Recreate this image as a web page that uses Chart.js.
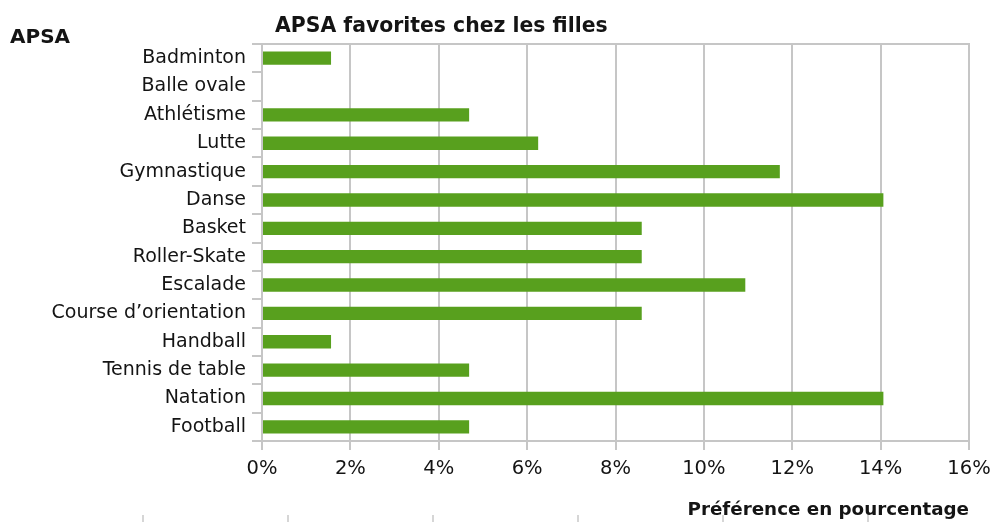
<!DOCTYPE html>
<html><head><meta charset="utf-8">
<script src="https://cdn.jsdelivr.net/npm/chart.js@4/dist/chart.umd.min.js"></script>
<style>html,body{margin:0;padding:0;background:#fff}#wrap{width:999px;height:522px;position:relative}</style>
</head><body><div id="wrap"><canvas id="c" width="999" height="522"></canvas></div>
<script>
const categories = ["Badminton","Balle ovale","Athlétisme","Lutte","Gymnastique","Danse","Basket","Roller-Skate","Escalade","Course d\u2019orientation","Handball","Tennis de table","Natation","Football"];
const percentages = [1.5625,0,4.6875,6.25,11.71875,14.0625,8.59375,8.59375,10.9375,8.59375,1.5625,4.6875,14.0625,4.6875];
const xTickValues = [0,2,4,6,8,10,12,14,16];
const chartTitle = "APSA favorites chez les filles";
const yTitle = "APSA";
const xTitle = "Préférence en pourcentage";

const FONT = "'DejaVu Sans', sans-serif";
const GRID = '#c6c6c6';
const TEXT = '#141414';

const deco = {
  id: 'deco',
  afterDraw(chart) {
    const ctx = chart.ctx, a = chart.chartArea;
    ctx.save();
    ctx.strokeStyle = GRID; ctx.lineWidth = 2;
    ctx.beginPath(); ctx.moveTo(a.left, a.top); ctx.lineTo(a.right + 1, a.top); ctx.stroke();
    ctx.fillStyle = TEXT;
    ctx.textBaseline = 'alphabetic';
    ctx.font = "bold 20px " + FONT;
    ctx.textAlign = 'left';
    ctx.fillText(yTitle, 10, 43);
    ctx.font = "bold 20.4px " + FONT;
    ctx.fillText(chartTitle, 275, 32);
    ctx.font = "bold 18.3px " + FONT;
    ctx.textAlign = 'right';
    ctx.fillText(xTitle, a.right, 515);
    // faint marks at bottom edge
    ctx.strokeStyle = '#c8c8c8'; ctx.lineWidth = 1.5;
    for (let i = 0; i < 6; i++) {
      const x = 143 + i * 145;
      ctx.beginPath(); ctx.moveTo(x, 515); ctx.lineTo(x, 522); ctx.stroke();
    }
    ctx.restore();
  }
};

new Chart(document.getElementById('c'), {
  type: 'bar',
  data: {
    labels: categories,
    datasets: [{
      data: percentages,
      backgroundColor: '#58a01e',
      borderWidth: 0,
      categoryPercentage: 1,
      barPercentage: 0.47
    }]
  },
  options: {
    indexAxis: 'y',
    responsive: false,
    animation: false,
    devicePixelRatio: 1,
    layout: { padding: { top: 44, right: 30, left: 0, bottom: 0 } },
    plugins: { legend: { display: false }, tooltip: { enabled: false }, title: { display: false } },
    scales: {
      x: {
        min: 0, max: 16,
        afterBuildTicks: s => { s.ticks = xTickValues.map(v => ({ value: v })); },
        afterFit: s => { s.height = 81; },
        ticks: { callback: v => v + '%', color: TEXT, font: { family: FONT, size: 19.5 }, padding: 7, maxRotation: 0 },
        grid: { color: GRID, lineWidth: 2, tickLength: 9 },
        border: { color: GRID, width: 2 }
      },
      y: {
        afterFit: s => { s.width = 262; },
        ticks: { color: TEXT, font: { family: FONT, size: 19 }, padding: 6, autoSkip: false },
        grid: { drawOnChartArea: false, offset: true, color: GRID, lineWidth: 2, tickLength: 10 },
        border: { color: GRID, width: 2 }
      }
    }
  },
  plugins: [deco]
});
</script></body></html>
